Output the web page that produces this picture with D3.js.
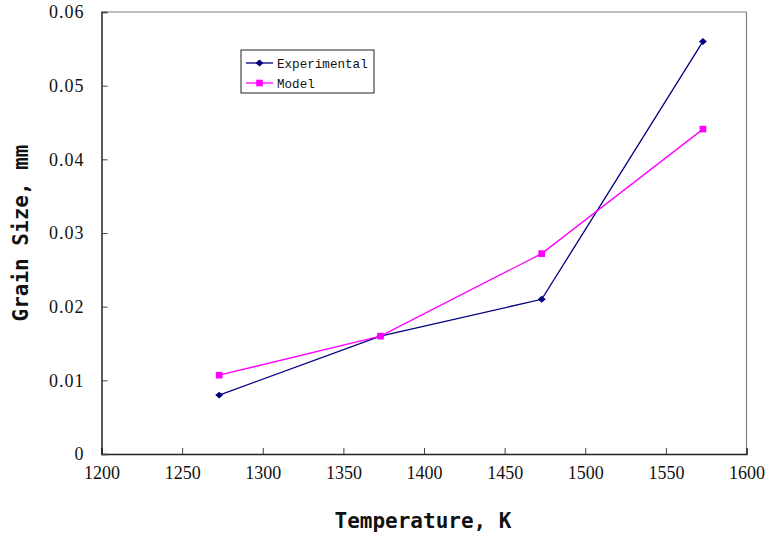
<!DOCTYPE html>
<html>
<head>
<meta charset="utf-8">
<script src="https://cdn.jsdelivr.net/npm/d3@7"></script>
<style>
  html, body { margin: 0; padding: 0; background: #fff; }
  svg { display: block; }
  .serif { font-family: "Liberation Serif", "DejaVu Serif", "Noto Serif", serif; }
  .mono { font-family: "Liberation Mono", "Courier New", monospace; }
  .title { font-family: "DejaVu Sans Mono", monospace; font-weight: bold; }
</style>
</head>
<body>
<svg id="chart" width="769" height="537"></svg>
<script>
// Grain size versus temperature: measured values and model prediction
const temperatures = [1273, 1373, 1473, 1573];
const experimental = [0.008, 0.016, 0.021, 0.056];
const model = [0.0107, 0.016, 0.0272, 0.0441];
const xTicks = [1200, 1250, 1300, 1350, 1400, 1450, 1500, 1550, 1600];
const yTicks = [0, 0.01, 0.02, 0.03, 0.04, 0.05, 0.06];
const seriesNames = ["Experimental", "Model"];

const svg = d3.select("#chart");
const margin = { left: 101.5, right: 769 - 746.5, top: 12, bottom: 537 - 454 };
const W = 769, H = 537;

const x = d3.scaleLinear().domain([1200, 1600]).range([margin.left, W - margin.right]);
const y = d3.scaleLinear().domain([0, 0.06]).range([H - margin.bottom, margin.top]);

// plot frame (top and right)
svg.append("line").attr("x1", x(1200)).attr("x2", x(1600)).attr("y1", y(0.06)).attr("y2", y(0.06))
  .attr("stroke", "#808080").attr("stroke-width", 1);
svg.append("line").attr("x1", x(1600)).attr("x2", x(1600)).attr("y1", y(0.06)).attr("y2", y(0))
  .attr("stroke", "#808080").attr("stroke-width", 1.2);

// x axis
const xAxis = svg.append("g").attr("transform", `translate(0,${y(0)})`)
  .call(d3.axisBottom(x).tickValues(xTicks).tickSize(-6).tickPadding(12).tickFormat(d3.format("d")));
xAxis.attr("font-family", null).attr("font-size", null);
xAxis.select(".domain").attr("stroke", "#222").attr("stroke-width", 1.5);
xAxis.selectAll(".tick line").attr("stroke", "#444");
xAxis.selectAll("text").attr("class", "serif").style("font-size", "18px").attr("fill", "#111");

// y axis
const yAxis = svg.append("g").attr("transform", `translate(${x(1200)},0)`)
  .call(d3.axisLeft(y).tickValues(yTicks).tickSize(-6).tickPadding(17)
    .tickFormat(d => d === 0 ? "0" : d3.format(".2f")(d)));
yAxis.attr("font-family", null).attr("font-size", null);
yAxis.select(".domain").attr("stroke", "#222").attr("stroke-width", 1.5);
yAxis.selectAll(".tick line").attr("stroke", "#444");
yAxis.selectAll("text").attr("class", "serif").style("font-size", "18px").attr("fill", "#111")
  .attr("letter-spacing", 1);

// series
const line = d3.line().x(d => x(d[0])).y(d => y(d[1]));
const expPts = temperatures.map((t, i) => [t, experimental[i]]);
const modPts = temperatures.map((t, i) => [t, model[i]]);

svg.append("path").datum(expPts).attr("d", line).attr("fill", "none")
  .attr("stroke", "#000080").attr("stroke-width", 1.3);
svg.append("path").datum(modPts).attr("d", line).attr("fill", "none")
  .attr("stroke", "#ff00ff").attr("stroke-width", 1.3);

const diamond = d3.symbol().type(d3.symbolDiamond2).size(30);
const square = d3.symbol().type(d3.symbolSquare).size(44);

svg.selectAll(".exp-pt").data(expPts).join("path").attr("class", "exp-pt")
  .attr("d", diamond).attr("transform", d => `translate(${x(d[0])},${y(d[1])}) scale(1.15,1)`)
  .attr("fill", "#000080");
svg.selectAll(".mod-pt").data(modPts).join("path").attr("class", "mod-pt")
  .attr("d", square).attr("transform", d => `translate(${x(d[0])},${y(d[1])})`)
  .attr("fill", "#ff00ff");

// axis titles
svg.append("text").attr("class", "title").attr("x", 423).attr("y", 528).attr("text-anchor", "middle")
  .style("font-size", "21px").attr("fill", "#111").text("Temperature, K");
svg.append("text").attr("class", "title").attr("transform", "translate(28,233) rotate(-90)")
  .attr("text-anchor", "middle").style("font-size", "21px").attr("fill", "#111").text("Grain Size, mm");

// legend
const lg = svg.append("g").attr("transform", "translate(241,50)");
lg.append("rect").attr("width", 133).attr("height", 43).attr("fill", "#fff")
  .attr("stroke", "#222").attr("stroke-width", 1);
const legendColors = ["#000080", "#ff00ff"];
const legendSyms = [diamond, square];
seriesNames.forEach((name, i) => {
  const cy = 13 + i * 20;
  lg.append("line").attr("x1", 5).attr("x2", 32).attr("y1", cy).attr("y2", cy)
    .attr("stroke", legendColors[i]).attr("stroke-width", 1.3);
  lg.append("path").attr("d", legendSyms[i])
    .attr("transform", `translate(18.5,${cy})` + (i === 0 ? " scale(1.15,1)" : ""))
    .attr("fill", legendColors[i]);
  lg.append("text").attr("class", "mono").attr("x", 36).attr("y", cy + 4.5)
    .style("font-size", "12.6px").attr("fill", "#111").text(name);
});
</script>
</body>
</html>
